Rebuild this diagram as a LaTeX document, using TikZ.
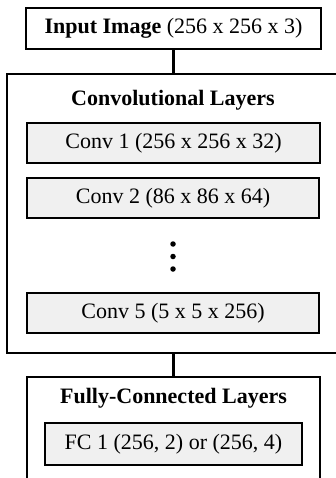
\documentclass[tikz,border=0pt]{standalone}
\usepackage{fontspec}
\setmainfont{Liberation Serif}
\begin{document}
\begin{tikzpicture}[x=1pt,y=-1pt,
  every node/.style={inner sep=0pt, outer sep=0pt},
  outerbox/.style={draw=black, line width=2pt, rectangle},
  layerbox/.style={draw=black, line width=2pt, fill=black!6, rectangle},
  txt/.style={font=\fontsize{22}{24}\selectfont},
  link/.style={draw=black, line width=2.4pt},
  dot/.style={fill=black, circle, minimum size=5.5pt}]
\path[use as bounding box, clip] (0,0) rectangle (336,478);
\fill[white] (0,0) rectangle (336,478);
% input
\node[outerbox, minimum width=295pt, minimum height=41pt, txt] (input) at (173.5,28.5) {\textbf{Input Image} (256 x 256 x 3)};
% conv container
\node[outerbox, minimum width=332pt, minimum height=279pt] (conv) at (173,213.5) {};
\node[txt] (convtitle) at (173,100) {\textbf{Convolutional Layers}};
\node[layerbox, minimum width=293pt, minimum height=40pt, txt] (c1) at (173.5,143) {Conv 1 (256 x 256 x 32)};
\node[layerbox, minimum width=292pt, minimum height=40pt, txt] (c2) at (173,198) {Conv 2 (86 x 86 x 64)};
\node[dot] (d1) at (173,244) {};
\node[dot] (d2) at (173,256.5) {};
\node[dot] (d3) at (173,269) {};
\node[layerbox, minimum width=292pt, minimum height=40pt, txt] (c5) at (173,313) {Conv 5 (5 x 5 x 256)};
% fc container
\node[outerbox, minimum width=293pt, minimum height=140pt] (fc) at (173.5,447) {};
\node[txt] (fctitle) at (173.5,398) {\textbf{Fully-Connected Layers}};
\node[layerbox, minimum width=257pt, minimum height=42pt, txt] (fc1) at (173.5,444) {FC 1 (256, 2) or (256, 4)};
% connectors
\draw[link] (input.south) -- (conv.north -| input.south);
\draw[link] (conv.south -| input.south) -- (fc.north -| input.south);
\end{tikzpicture}
\end{document}
